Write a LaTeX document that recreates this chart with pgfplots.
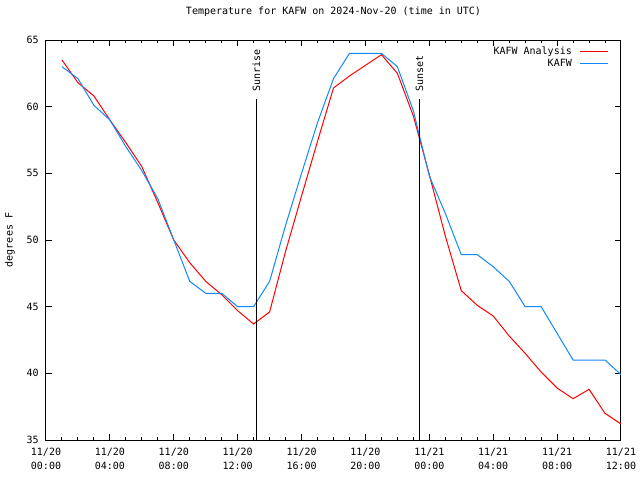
\documentclass[border=0pt]{standalone}
\usepackage{pgfplots}
\pgfplotsset{compat=1.18}
\usepackage{fontspec}
\setmainfont{DejaVu Sans Mono}
\definecolor{obsblue}{RGB}{16,136,255}
\definecolor{anared}{RGB}{255,0,0}
\begin{document}
\begin{tikzpicture}[font=\fontsize{7.5}{10.5}\selectfont]
\path (-34.5pt,-30pt) rectangle (445.5pt,330pt);
\begin{axis}[
 at={(0pt,0pt)}, anchor=south west,
 scale only axis, width=431.25pt, height=300pt,
 xmin=0, xmax=36, ymin=35, ymax=65,
 xtick={0,4,...,36},
 xticklabels={{11/20\\00:00},{11/20\\04:00},{11/20\\08:00},{11/20\\12:00},{11/20\\16:00},{11/20\\20:00},{11/21\\00:00},{11/21\\04:00},{11/21\\08:00},{11/21\\12:00}},
 minor x tick num=3,
 ytick={35,40,...,65},
 tick align=inside,
 major tick length=4.5pt, minor tick length=2.25pt,
 axis line style={line width=0.75pt},
 every tick/.style={line width=0.75pt, black},
 xticklabel style={align=center, anchor=north, inner sep=0pt, yshift=-6pt},
 yticklabel style={anchor=east, inner sep=0pt, xshift=-5.25pt},
 /pgf/number format/assume math mode=true,
 title={Temperature for KAFW on 2024-Nov-20 (time in UTC)},
 title style={at={(axis description cs:0.5,1)}, anchor=center, yshift=15pt, inner sep=0pt},
 ylabel={degrees F},
 ylabel style={at={(axis description cs:-0.0626,0.5)}, anchor=center, inner sep=0pt},
 legend plot pos=right,
 legend cell align=right,
 legend image code/.code={\path[draw=none,fill=none] (0pt,0pt) -- (27pt,0pt); \draw[#1,solid] (6pt,0pt) -- (27pt,0pt);},
 legend style={draw=none, fill=none, at={(axis description cs:1,1)}, anchor=north east,
   xshift=-8.8pt, yshift=-4.5pt, inner sep=0pt, row sep=0pt,
   nodes={inner sep=0.5pt, text height=6pt, text depth=1.5pt}},
]
\addlegendimage{draw=anared, line width=0.75pt}
\addlegendentry{KAFW Analysis}
\addlegendimage{draw=obsblue, line width=0.75pt}
\addlegendentry{KAFW}
\addplot[draw=anared, line width=0.75pt, forget plot] coordinates {
(1,63.5) (2,61.8) (3,60.8) (4,59.0) (5,57.3) (6,55.5) (7,52.8) (8,50.0) (9,48.3)
(10,46.9) (11,45.9) (12,44.7) (13,43.7) (14,44.6) (15,49.15) (16,53.3) (17,57.4)
(18,61.4) (19,62.3) (20,63.1) (21,63.9) (22,62.5) (23,59.3) (24,54.9) (25,50.3)
(26,46.2) (27,45.1) (28,44.3) (29,42.8) (30,41.5) (31,40.1) (32,38.9) (33,38.1)
(34,38.8) (35,37.0) (36,36.2)};
\addplot[draw=obsblue, line width=0.75pt, forget plot] coordinates {
(1,63.0) (2,62.1) (3,60.1) (4,59.0) (5,57.0) (6,55.2) (7,53.1) (8,50.0) (9,46.9)
(10,46.0) (11,46.0) (12,45.0) (13,45.0) (14,46.9) (15,51.1) (16,55.0) (17,58.8)
(18,62.1) (19,64.0) (20,64.0) (21,64.0) (22,63.0) (23,59.7) (24,54.8) (25,52.0)
(26,48.9) (27,48.9) (28,48.0) (29,46.9) (30,45.0) (31,45.0) (32,43.0) (33,41.0)
(34,41.0) (35,41.0) (36,39.9)};
\addplot[black, line width=0.75pt, forget plot] coordinates {(13.18,35) (13.18,60.575)};
\addplot[black, line width=0.75pt, forget plot] coordinates {(23.39,35) (23.39,60.575)};
\node[rotate=90, anchor=west, inner sep=0pt] at (axis cs:13.18,61.1) {Sunrise};
\node[rotate=90, anchor=west, inner sep=0pt] at (axis cs:23.39,61.1) {Sunset};
\end{axis}
\end{tikzpicture}
\end{document}
